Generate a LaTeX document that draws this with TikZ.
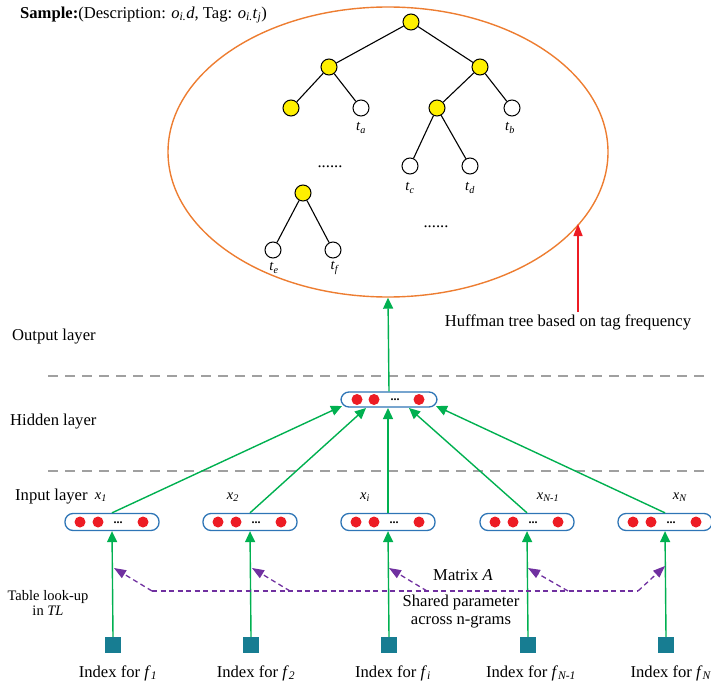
\documentclass[tikz,border=0pt]{standalone}
\usepackage{fontspec}
\setmainfont{Liberation Serif}
\usetikzlibrary{arrows.meta,shapes.geometric}
\definecolor{gr}{RGB}{0,176,80}
\definecolor{bx}{RGB}{46,117,182}
\definecolor{rd}{RGB}{237,28,36}
\definecolor{yl}{RGB}{255,240,0}
\definecolor{tl}{RGB}{23,125,146}
\definecolor{og}{RGB}{237,125,49}
\definecolor{pp}{RGB}{112,48,160}
\definecolor{gy}{RGB}{160,160,160}
\newcommand{\sub}[1]{\textsubscript{\textit{#1}}}
\begin{document}
\begin{tikzpicture}[x=1pt,y=-1pt,
  txt/.style={font=\fontsize{16.6}{19}\selectfont, inner sep=0pt},
  stxt/.style={font=\fontsize{14.5}{16}\selectfont, inner sep=0pt},
  yn/.style={circle, draw=black, fill=yl, line width=1pt, minimum size=16pt, inner sep=0pt},
  wn/.style={circle, draw=black, fill=white, line width=1pt, minimum size=16pt, inner sep=0pt},
  tedge/.style={draw=black, line width=1.1pt},
  vbox/.style={draw=bx, line width=1.3pt, rounded corners=8pt, minimum width=94pt, minimum height=17pt, inner sep=0pt},
  sq/.style={fill=tl, minimum size=16pt, inner sep=0pt},
  garrow/.style={draw=gr, line width=1.4pt, -{Triangle[length=11pt,width=10pt]}},
  parrow/.style={draw=pp, line width=1.3pt, dash pattern=on 5pt off 3.5pt, -{Triangle[length=12pt,width=9pt]}},
  gline/.style={draw=gy, line width=2pt, dash pattern=on 10pt off 7pt},
  bdots/.style={font=\fontsize{12}{12}\selectfont\bfseries, inner sep=0pt}]
\useasboundingbox (0,0) rectangle (711,687);

% title
\node[txt, anchor=west] (title) at (20,15) {\textbf{Sample:}(Description: \textit{o}\sub{i.}\textit{d}, Tag: \textit{o}\sub{i.}\textit{t}\sub{j})};

% ellipse
\node[ellipse, draw=og, line width=1.4pt, minimum width=440pt, minimum height=290pt, inner sep=0pt] (ell) at (388,152) {};

% tree
\node[yn] (r) at (411,22) {};
\node[yn] (a) at (329,67) {};
\node[yn] (b) at (480,67) {};
\node[yn] (c) at (291,108) {};
\node[wn] (ta) at (361,108) {};
\node[yn] (d) at (437,108) {};
\node[wn] (tb) at (512,108) {};
\node[wn] (tc) at (410,166) {};
\node[wn] (td) at (470,166) {};
\node[yn] (e) at (303,193) {};
\node[wn] (te) at (273,250) {};
\node[wn] (tf) at (333,250) {};
\draw[tedge] (r) -- (a);
\draw[tedge] (r) -- (b);
\draw[tedge] (a) -- (c);
\draw[tedge] (a) -- (ta);
\draw[tedge] (b) -- (d);
\draw[tedge] (b) -- (tb);
\draw[tedge] (d) -- (tc);
\draw[tedge] (d) -- (td);
\draw[tedge] (e) -- (te);
\draw[tedge] (e) -- (tf);
\node[stxt] (lta) at (361,128) {\textit{t}\sub{a}};
\node[stxt] (ltb) at (510,128) {\textit{t}\sub{b}};
\node[stxt] (ltc) at (410,188) {\textit{t}\sub{c}};
\node[stxt] (ltd) at (470,188) {\textit{t}\sub{d}};
\node[stxt] (lte) at (274,268) {\textit{t}\sub{e}};
\node[stxt] (ltf) at (335,268) {\textit{t}\sub{f}};
\node[txt] (dots1) at (330,167) {......};
\node[txt] (dots2) at (436,227) {......};

% layer labels and separators
\node[txt, anchor=west] (outl) at (12,337) {Output layer};
\node[txt, anchor=west] (hidl) at (10,422) {Hidden layer};
\node[txt, anchor=west] (inl) at (15,497) {Input layer};
\coordinate (s1a) at (48,375.5);
\coordinate (s1b) at (711,375.5);
\coordinate (s2a) at (48,471);
\coordinate (s2b) at (711,471);
\draw[gline] (s1a) -- (s1b);
\draw[gline] (s2a) -- (s2b);

% hidden box
\node[vbox, minimum width=96pt, minimum height=15pt] (hid) at (389,399.5) {};
\foreach \dx in {357,374,419} \fill[rd] (\dx,399.5) circle (5.5pt);
\node[bdots] (hdots) at (395,400) {...};

% huffman arrow
\coordinate (hufftip) at (578,224);
\coordinate (huffbase) at (578,312);
\draw[draw=rd, line width=1.4pt, -{Triangle[length=12pt,width=9pt]}] (huffbase) -- (hufftip);
\node[txt] (huff) at (568,322) {Huffman tree based on tag frequency};

\draw[garrow] (hid.north) -- (ell.south);

% input boxes
\foreach \n/\cx in {1/112,2/250,3/388,4/527,5/665}{
  \node[vbox] (in\n) at (\cx,522) {};
  \fill[rd] (\cx-32,522) circle (5.5pt);
  \fill[rd] (\cx-14,522) circle (5.5pt);
  \fill[rd] (\cx+31,522) circle (5.5pt);
  \node[bdots] (indots\n) at (\cx+6,522.5) {...};
  \node[sq] (sq\n) at (\cx+1,645) {};
  \draw[garrow] (sq\n.north) -- (in\n.south);
}
\node[stxt] (x1) at (101,497) {\textit{x}\sub{1}};
\node[stxt] (x2) at (233,497) {\textit{x}\sub{2}};
\node[stxt] (x3) at (365,497) {\textit{x}\sub{i}};
\node[stxt] (x4) at (548,497) {\textit{x}\sub{N-1}};
\node[stxt] (x5) at (680,497) {\textit{x}\sub{N}};

% input -> hidden
\coordinate (h1) at (342,406);
\coordinate (h2) at (366,408);
\coordinate (h3) at (388,408);
\coordinate (h4) at (409,408);
\coordinate (h5) at (436,406);
\draw[garrow] (in1.north) -- (h1);
\draw[garrow] (in2.north) -- (h2);
\draw[garrow] (in3.north) -- (h3);
\draw[garrow] (in4.north) -- (h4);
\draw[garrow] (in5.north) -- (h5);

% index labels
\node[txt] (i1) at (118,673) {Index for \textit{f}\sub{1}};
\node[txt] (i2) at (256,673) {Index for \textit{f}\sub{2}};
\node[txt] (i3) at (393,673) {Index for \textit{f}\sub{i}};
\node[txt] (i4) at (531,673) {Index for \textit{f}\sub{N-1}};
\node[txt] (i5) at (671,673) {Index for \textit{f}\sub{N}};

% shared matrix
\coordinate (q1) at (152,591);
\coordinate (q2) at (290,591);
\coordinate (q3) at (427,591);
\coordinate (q4) at (568,591);
\coordinate (q5) at (638,591);
\coordinate (p1) at (114,568);
\coordinate (p2) at (252,568);
\coordinate (p3) at (389,568);
\coordinate (p4) at (528,568);
\coordinate (p5) at (665,566);
\draw[draw=pp, line width=1.3pt, dash pattern=on 5pt off 3.5pt] (q1) -- (q5);
\draw[parrow] (q1) -- (p1);
\draw[parrow] (q2) -- (p2);
\draw[parrow] (q3) -- (p3);
\draw[parrow] (q4) -- (p4);
\draw[parrow] (q5) -- (p5);
\node[txt] (mat) at (463,575) {Matrix \textit{A}};
\node[txt, align=center] (shared) at (461,612) {Shared parameter\\[-1pt]across n-grams};
\node[stxt, align=center] (tlk) at (48,603) {Table look-up\\[-1pt]in \textit{TL}};
\end{tikzpicture}
\end{document}
